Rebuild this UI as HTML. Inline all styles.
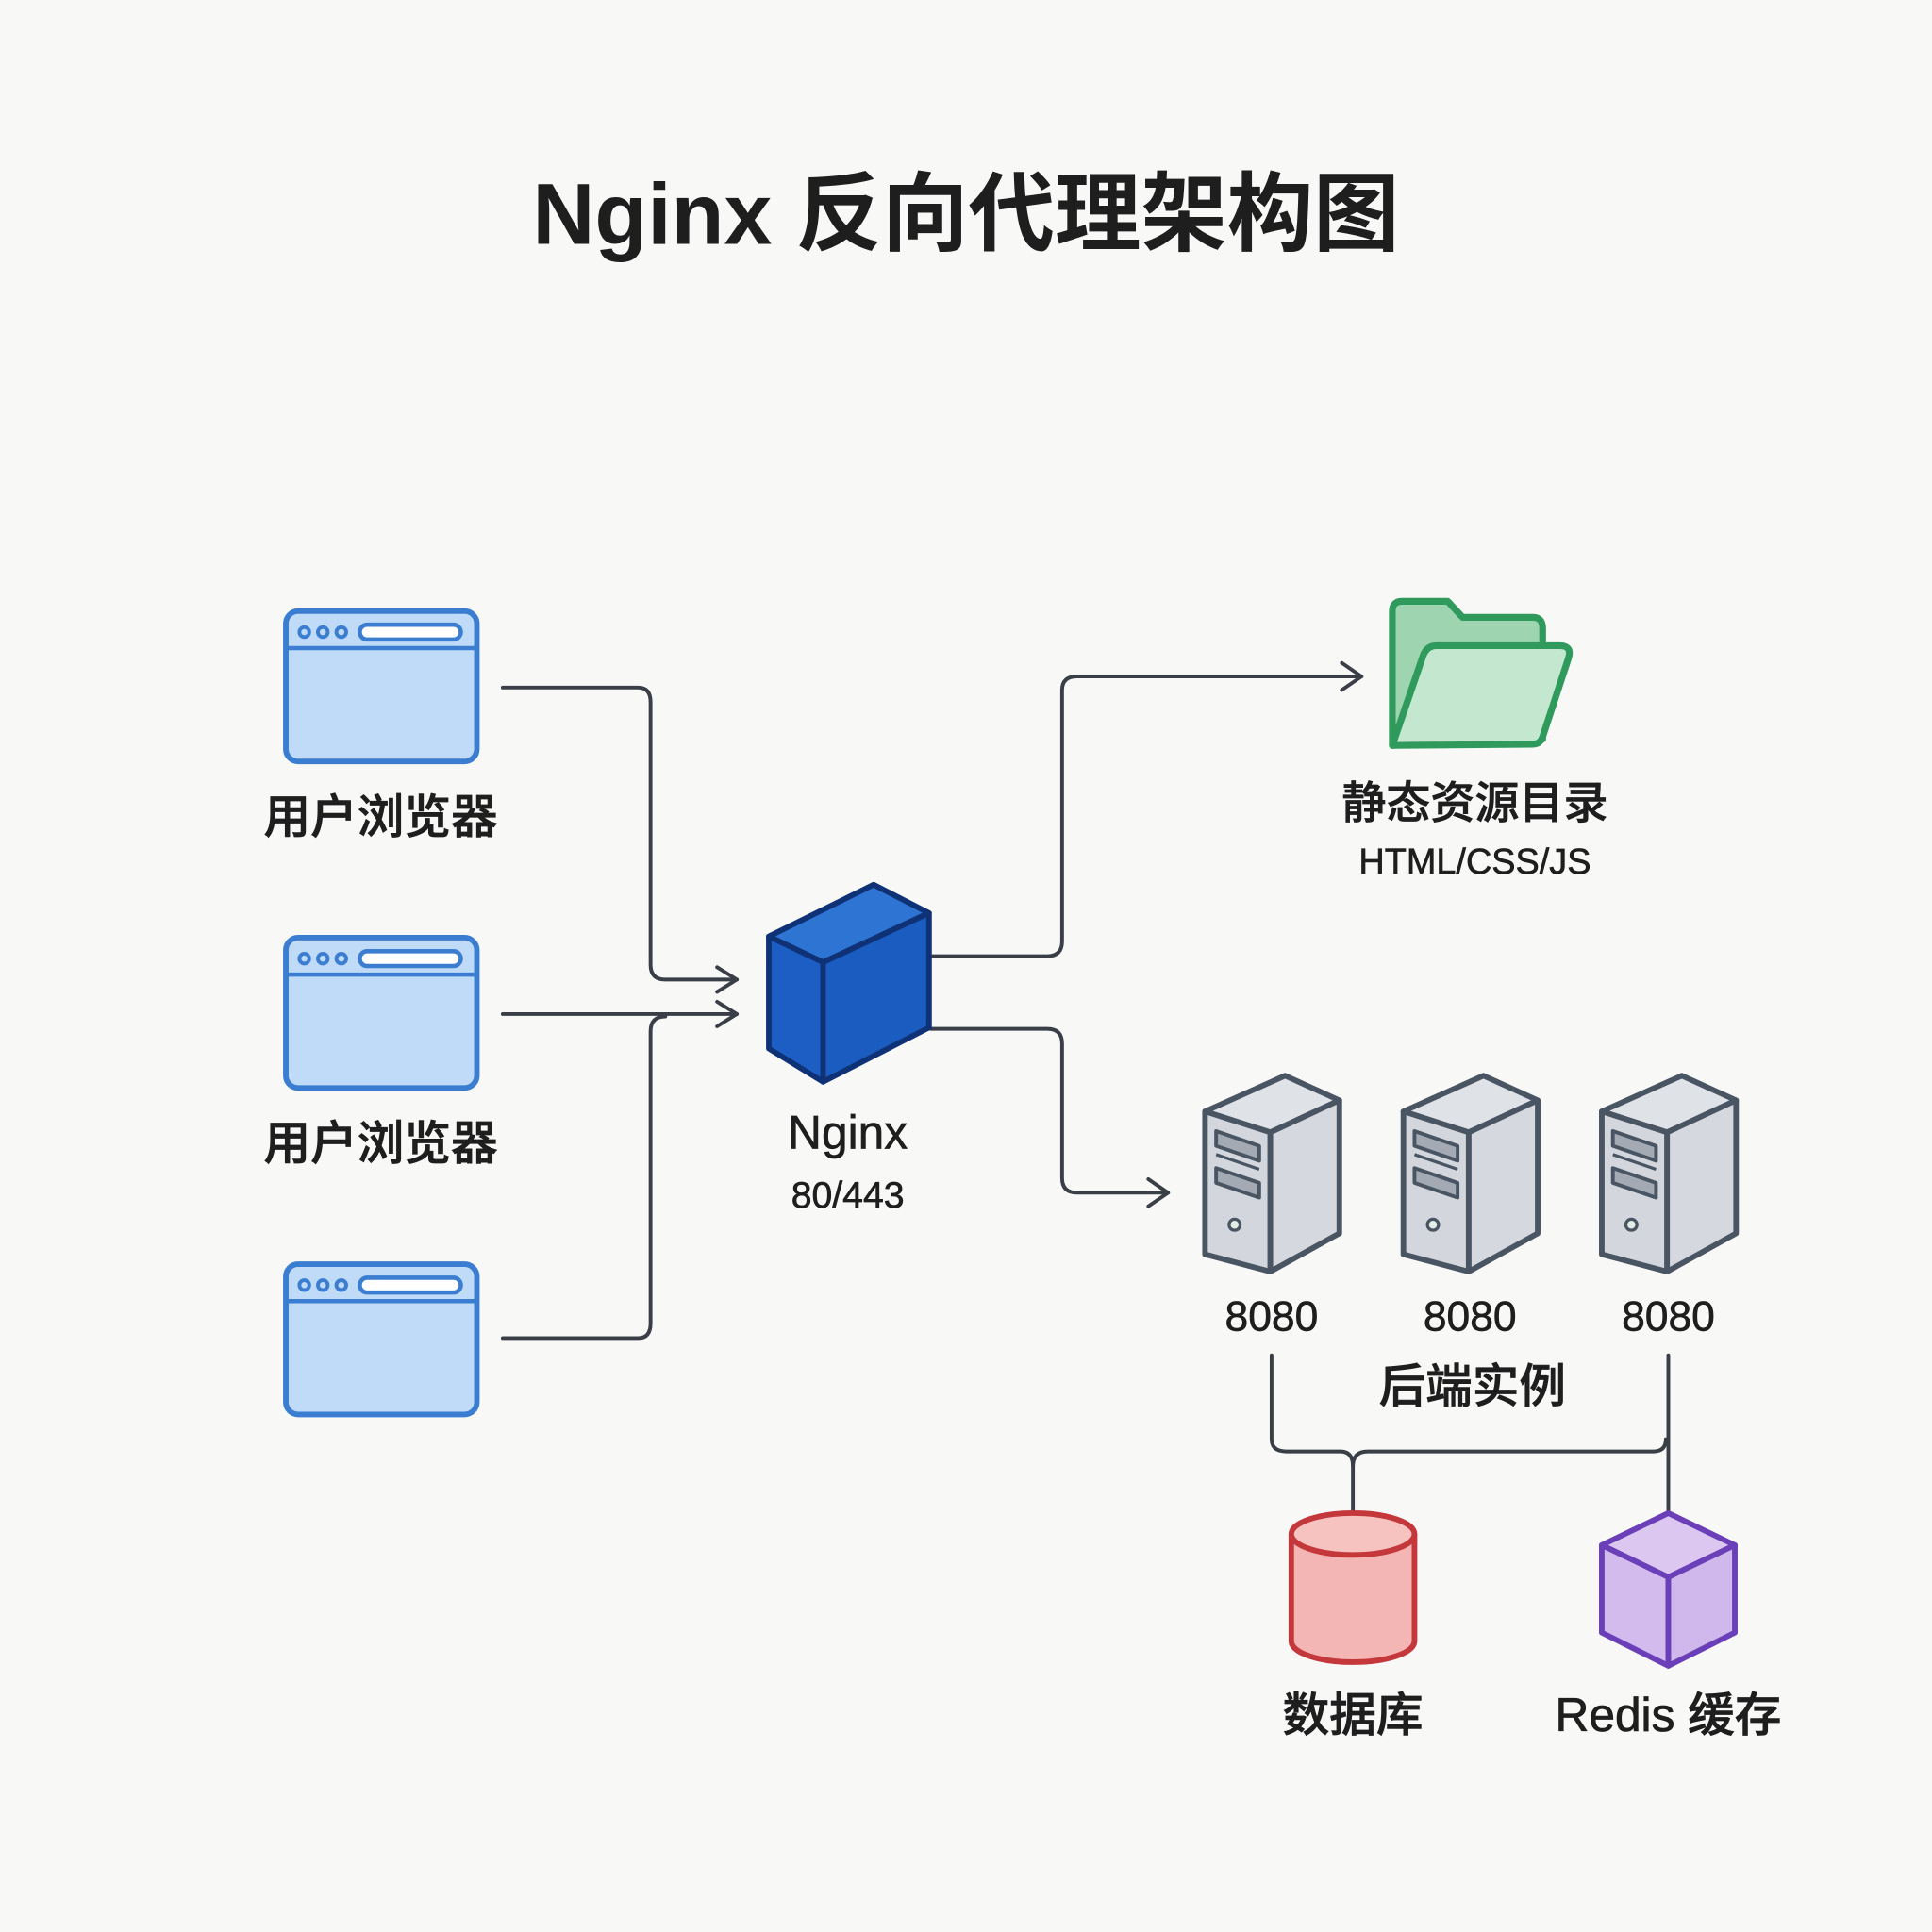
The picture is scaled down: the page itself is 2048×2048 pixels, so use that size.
<!DOCTYPE html>
<html><head><meta charset="utf-8"><style>
html,body{margin:0;padding:0;background:#f8f8f7;}
svg{display:block}
text{font-family:"Liberation Sans","Noto Sans CJK SC",sans-serif;fill:#1e1e1e}
</style></head><body>
<svg width="2048" height="2048" viewBox="0 0 1568 1568" xmlns="http://www.w3.org/2000/svg">
<rect width="1568" height="1568" fill="#f8f8f7"/>
<text x="784" y="198" font-size="70" text-anchor="middle" font-weight="bold" fill="#222">Nginx 反向代理架构图</text>

<!-- browsers -->
<g id="br">
<rect x="232" y="496" width="155" height="122" rx="10" fill="#bfdbf7" stroke="#3b7dd0" stroke-width="4.5"/>
<line x1="232" y1="526" x2="387" y2="526" stroke="#3b7dd0" stroke-width="3.5"/>
<circle cx="247" cy="513" r="4" fill="none" stroke="#3b7dd0" stroke-width="3"/>
<circle cx="262" cy="513" r="4" fill="none" stroke="#3b7dd0" stroke-width="3"/>
<circle cx="277" cy="513" r="4" fill="none" stroke="#3b7dd0" stroke-width="3"/>
<rect x="292" y="507" width="82" height="12" rx="6" fill="#fff" stroke="#3b7dd0" stroke-width="3.5"/>
</g>
<use href="#br" transform="translate(0,265)"/>
<use href="#br" transform="translate(0,530)"/>
<g font-weight="500" stroke="#1e1e1e" stroke-width="0.6">
<text x="309" y="676" font-size="38" text-anchor="middle">用户浏览器</text>
<text x="309" y="941" font-size="38" text-anchor="middle">用户浏览器</text>
</g>

<!-- connectors -->
<g fill="none" stroke="#3a3f47" stroke-width="3" stroke-linecap="round" stroke-linejoin="round">
<path d="M408 558 H518 Q528 558 528 570 V783 Q528 795 540 795 H598"/>
<path d="M582 785 L598 795 L582 805"/>
<path d="M408 823 H598"/>
<path d="M582 813 L598 823 L582 833"/>
<path d="M408 1086 H518 Q528 1086 528 1074 V837 Q528 825 540 825"/>
<path d="M755 776 H850 Q862 776 862 764 V560 Q862 549 874 549 H1105"/>
<path d="M1089 538 L1105 549 L1089 560"/>
<path d="M755 835 H850 Q862 835 862 847 V956 Q862 968 874 968 H948"/>
<path d="M932 957 L948 968 L932 979"/>
<path d="M1032 1100 V1168 Q1032 1178 1044 1178 H1088 Q1098 1178 1098 1190 V1226"/>
<path d="M1098 1190 Q1098 1178 1110 1178 H1342 Q1352 1178 1352 1168"/>
<path d="M1354 1100 V1228"/>
</g>

<!-- nginx cube -->
<g stroke="#0f3277" stroke-width="4.5" stroke-linejoin="round">
<polygon points="624,760 709,718 754,741 668,781" fill="#2e74d2"/>
<polygon points="624,760 668,781 668,878 624,851" fill="#1d5ec4"/>
<polygon points="668,781 754,741 754,834 668,878" fill="#1a5cc0"/>
</g>
<g font-weight="500" stroke="#1e1e1e" stroke-width="0.5">
<text x="688" y="932" font-size="38" text-anchor="middle">Nginx</text>
<text x="688" y="980" font-size="30" text-anchor="middle">80/443</text>
</g>

<!-- folder -->
<g stroke="#2f9a5c" stroke-width="5.5" stroke-linejoin="round">
<path d="M1130 496 Q1130 488 1138 488 H1175 L1187 501 H1244 Q1252 501 1252 510 V600 L1130 605 Z" fill="#9fd4b0"/>
<path d="M1130 605 L1155 532 Q1158 524 1166 524 H1266 Q1276 524 1273 534 L1252 598 Q1250 604 1244 604 Z" fill="#c3e8cf"/>
</g>
<g font-weight="500" stroke="#1e1e1e" stroke-width="0.5">
<text x="1197" y="664" font-size="36" text-anchor="middle">静态资源目录</text>
<text x="1197" y="709" font-size="29" text-anchor="middle">HTML/CSS/JS</text>
</g>

<!-- servers -->
<g id="sv" stroke="#4a5563" stroke-width="4.5" stroke-linejoin="round">
<polygon points="978,902 1043,873 1087,893 1031,919" fill="#dfe2e7"/>
<polygon points="978,902 1031,919 1031,1032 978,1018" fill="#d3d7dd"/>
<polygon points="1031,919 1087,893 1087,1001 1031,1032" fill="#d5d9df"/>
<polygon points="987,918 1022,930 1022,942 987,930" fill="#a3aab4" stroke-width="3"/>
<line x1="987" y1="937" x2="1022" y2="949" stroke-width="2.5"/>
<polygon points="987,948 1022,960 1022,972 987,960" fill="#a3aab4" stroke-width="3"/>
<circle cx="1002" cy="994" r="4.5" fill="#e4ece6" stroke-width="2.5"/>
</g>
<use href="#sv" transform="translate(161,0)"/>
<use href="#sv" transform="translate(322,0)"/>
<g font-weight="500" stroke="#1e1e1e" stroke-width="0.5">
<text x="1032" y="1080" font-size="34" text-anchor="middle">8080</text>
<text x="1193" y="1080" font-size="34" text-anchor="middle">8080</text>
<text x="1354" y="1080" font-size="34" text-anchor="middle">8080</text>
<text x="1195" y="1138" font-size="38" text-anchor="middle">后端实例</text>
</g>

<!-- database -->
<g stroke="#c4373b" stroke-width="4.5">
<path d="M1048 1245 V1332 A50 17 0 0 0 1148 1332 V1245" fill="#f3b6b4"/>
<ellipse cx="1098" cy="1245" rx="50" ry="17" fill="#f6c3c1"/>
</g>

<!-- redis cube -->
<g stroke="#6a3fb8" stroke-width="4.5" stroke-linejoin="round">
<polygon points="1354,1228 1408,1254 1354,1280 1300,1254" fill="#dcc7f0"/>
<polygon points="1300,1254 1354,1280 1354,1352 1300,1325" fill="#d3bbee"/>
<polygon points="1354,1280 1408,1254 1408,1325 1354,1352" fill="#d1b8ec"/>
</g>
<g font-weight="500" stroke="#1e1e1e" stroke-width="0.6">
<text x="1098" y="1405" font-size="38" text-anchor="middle">数据库</text>
<text x="1354" y="1405" font-size="38" text-anchor="middle">Redis 缓存</text>
</g>
</svg>
</body></html>
